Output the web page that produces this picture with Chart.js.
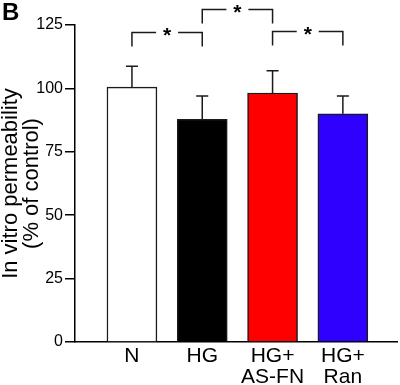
<!DOCTYPE html>
<html><head><meta charset="utf-8">
<script src="https://cdn.jsdelivr.net/npm/chart.js@4/dist/chart.umd.min.js"></script>
<style>html,body{margin:0;padding:0;background:#fff}#wrap{width:400px;height:385px;position:relative}</style>
</head><body><div id="wrap"><canvas id="c"></canvas></div>
<script>
// ---- data ----
const categories = [['N'], ['HG'], ['HG+', 'AS-FN'], ['HG+', 'Ran']];
const means = [100.5, 87.8, 98.2, 90.0];
const sems = [8.2, 9.2, 8.8, 7.0];
const barColors = ['#ffffff', '#000000', '#ff0000', '#3000ff'];
const yTicks = [0, 25, 50, 75, 100, 125];
const comparisons = [[0, 1], [1, 2], [2, 3]];
const comparisonLevels = [122.0, 131.1, 122.4];
const comparisonMarks = ['*', '*', '*'];
const yTitle = ['In vitro permeability', '(% of control)'];
const panelLabel = 'B';

const SANS = "'Liberation Sans', Arial, Helvetica, sans-serif";
const NARROW = "'Liberation Sans Narrow', 'Arial Narrow', 'Liberation Sans', Arial, sans-serif";
const INK = '#1a1a1a';

const overlay = {
  id: 'overlay',
  afterDatasetsDraw(chart) {
    const { ctx, scales: { x, y } } = chart;
    ctx.save();
    ctx.strokeStyle = INK;
    ctx.lineWidth = 1.5;
    // error bars (upper only)
    means.forEach((m, i) => {
      const px = x.getPixelForValue(i);
      const y0 = y.getPixelForValue(m);
      const y1 = y.getPixelForValue(m + sems[i]);
      ctx.beginPath();
      ctx.moveTo(px, y0); ctx.lineTo(px, y1);
      ctx.moveTo(px - 6, y1); ctx.lineTo(px + 6, y1);
      ctx.stroke();
    });
    // significance brackets
    comparisons.forEach((pair, k) => {
      const xa = x.getPixelForValue(pair[0]);
      const xb = x.getPixelForValue(pair[1]);
      const yt = y.getPixelForValue(comparisonLevels[k]);
      const drop = 14;
      const mid = (xa + xb) / 2;
      const gap = 11;
      ctx.beginPath();
      ctx.moveTo(xa, yt + drop); ctx.lineTo(xa, yt); ctx.lineTo(mid - gap, yt);
      ctx.moveTo(mid + gap, yt); ctx.lineTo(xb, yt); ctx.lineTo(xb, yt + drop);
      ctx.stroke();
      ctx.fillStyle = '#000';
      ctx.font = 'bold 21px ' + SANS;
      ctx.textAlign = 'center';
      ctx.textBaseline = 'middle';
      ctx.fillText(comparisonMarks[k], mid, yt + 4);
    });
    // panel label
    ctx.fillStyle = '#000';
    ctx.font = 'bold 24px ' + SANS;
    ctx.textAlign = 'left';
    ctx.textBaseline = 'top';
    ctx.fillText(panelLabel, 2, 1);
    ctx.restore();
  }
};

new Chart(document.getElementById('c'), {
  type: 'bar',
  data: {
    datasets: [{
      data: means.map((v, i) => ({ x: i, y: v })),
      backgroundColor: barColors,
      borderColor: INK,
      borderWidth: 1.5,
      barThickness: 50,
      borderSkipped: 'start'
    }]
  },
  options: {
    responsive: true,
    maintainAspectRatio: false,
    animation: false,
    layout: { padding: { top: 25, right: 3, left: 0, bottom: 0 } },
    plugins: { legend: { display: false }, tooltip: { enabled: false } },
    scales: {
      x: {
        type: 'linear',
        offset: false,
        min: -0.81,
        max: 3.77,
        grid: { display: false, offset: false },
        border: { display: true, color: '#000', width: 1.5 },
        afterBuildTicks: s => { s.ticks = categories.map((_, i) => ({ value: i })); },
        afterFit: s => { s.height = 43; },
        ticks: {
          autoSkip: false, maxRotation: 0, padding: -4, color: '#000',
          font: { family: SANS, size: 21, lineHeight: 1.0 },
          callback: v => categories[v] || ''
        }
      },
      y: {
        min: 0,
        max: 125,
        afterBuildTicks: s => { s.ticks = yTicks.map(v => ({ value: v })); },
        afterFit: s => { s.width = 75; },
        grid: { display: true, drawOnChartArea: false, drawTicks: true, tickLength: 10, color: '#000', lineWidth: 1.5 },
        border: { display: true, color: '#000', width: 1.5 },
        ticks: { color: '#000', padding: 2, font: { family: NARROW, size: 16 } },
        title: {
          display: true, text: yTitle, color: '#000',
          font: { family: SANS, size: 22, lineHeight: 0.98 },
          padding: { top: 0, bottom: 0 }
        }
      }
    }
  },
  plugins: [overlay]
});
</script>
</body></html>
